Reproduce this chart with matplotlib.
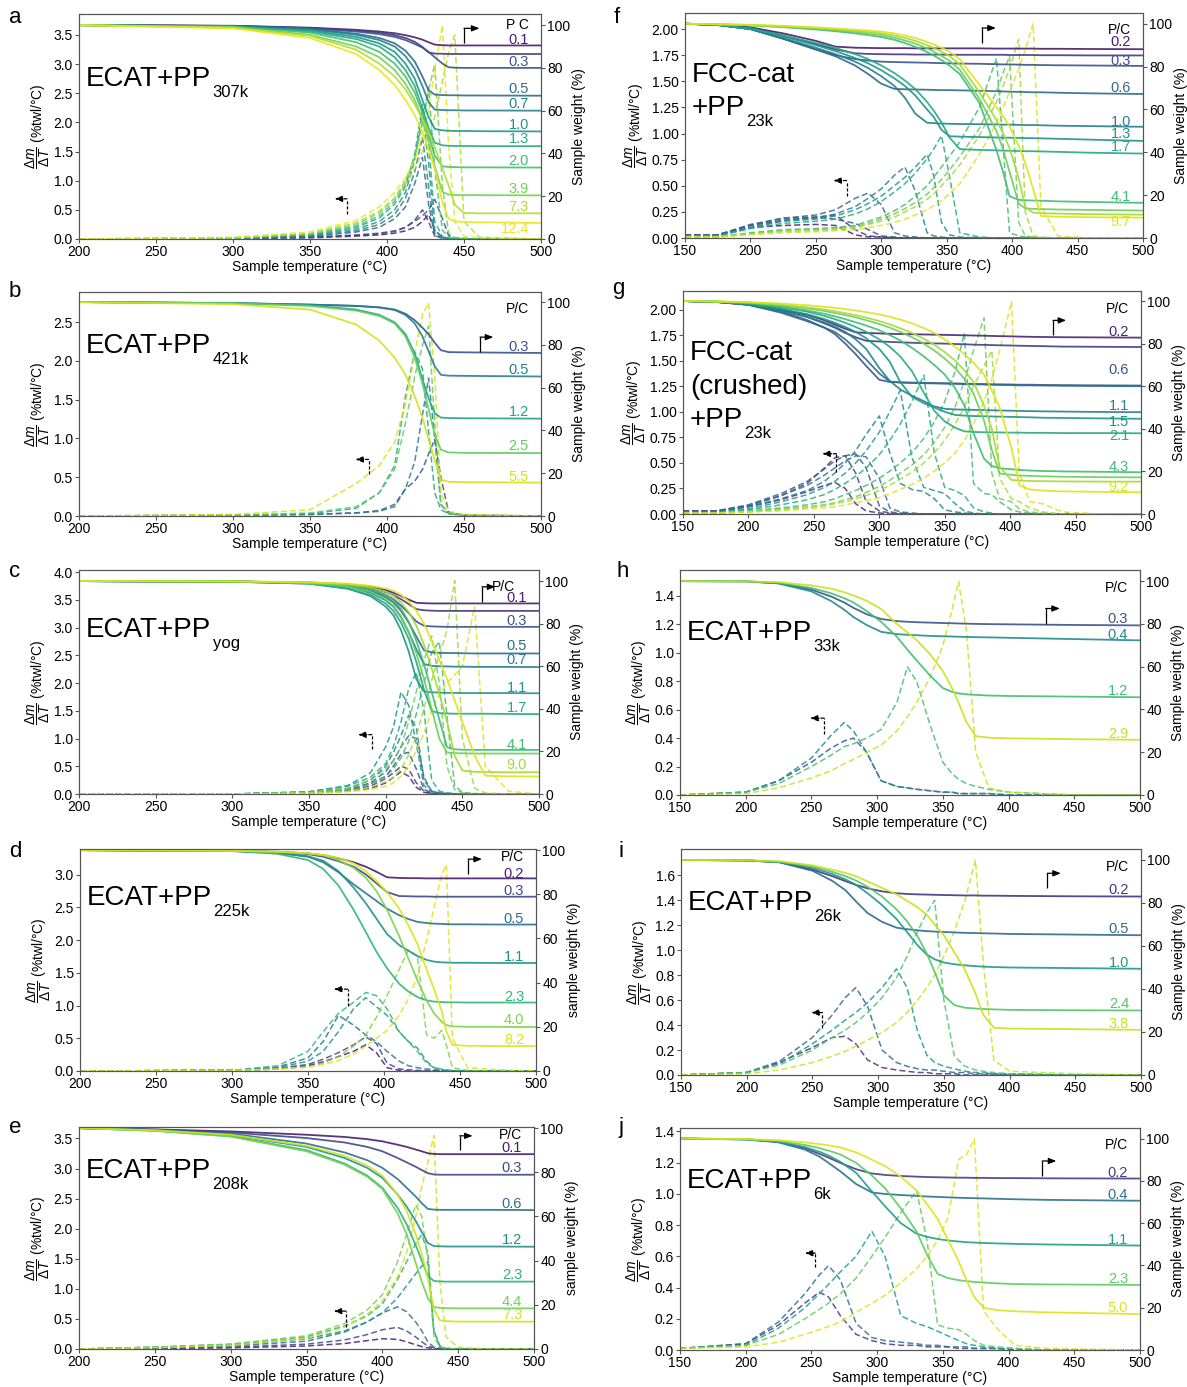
import numpy as np
import matplotlib
matplotlib.use('Agg')
import matplotlib.pyplot as plt
import matplotlib.transforms as mtransforms
from matplotlib.ticker import FormatStrFormatter

plt.rcParams['font.family'] = ['Liberation Sans', 'DejaVu Sans']
plt.rcParams['mathtext.fontset'] = 'custom'
plt.rcParams['mathtext.rm'] = 'Liberation Sans'
plt.rcParams['mathtext.it'] = 'Liberation Sans:italic'
plt.rcParams['mathtext.bf'] = 'Liberation Sans:bold'

# ---------------- panel a : ECAT + PP 307k ----------------
a_temp = [200, 300, 350, 380, 395, 405, 412, 418, 423, 427, 431, 436, 440, 444, 450, 460, 500]
a_labels = ['0.1', '', '0.3', '0.5', '0.7', '1.0', '1.3', '2.0', '3.9', '7.3', '12.4']
a_label_y = [93, None, 82.8, 70.3, 63, 53.4, 46.9, 36.7, 23.4, 14.8, 4.7]
a_weight = [
    [100, 99.7, 98.8, 97.8, 97, 96.2, 95.3, 94.3, 93.2, 92, 90.9, 90.6, 90.5, 90.5, 90.5, 90.5, 90.5],
    [100, 99.6, 98.6, 97.5, 96.5, 95.3, 94, 92.2, 89.8, 87.2, 86.7, 86.6, 86.5, 86.5, 86.5, 86.5, 86.5],
    [100, 99.6, 98.5, 97, 95.8, 94.5, 93, 91.2, 89.5, 87.5, 85, 82, 80.3, 80.1, 80, 80, 80],
    [100, 99.5, 98.2, 96, 94, 91.5, 88, 83, 76, 69.5, 67.5, 67.3, 67.2, 67.2, 67.1, 67.1, 67],
    [100, 99.5, 98, 95.5, 93, 90, 85.5, 79.5, 71.5, 64, 60.5, 60.3, 60.2, 60.2, 60.1, 60.1, 60],
    [100, 99.4, 97.5, 94.5, 91.5, 87.5, 82, 75, 65, 57, 51.5, 50.8, 50.6, 50.5, 50.5, 50.4, 50.3],
    [100, 99.3, 97, 93.5, 90, 85, 79, 71.5, 61, 52, 45, 43.8, 43.6, 43.5, 43.5, 43.4, 43.4],
    [100, 99.2, 96.5, 92, 87.5, 82, 76, 68.5, 59, 49, 39, 34, 33.7, 33.6, 33.5, 33.5, 33.4],
    [100, 99, 95.5, 90, 85, 79, 72.5, 65, 56, 46, 34, 22, 20.8, 20.6, 20.5, 20.5, 20.4],
    [100, 98.8, 95, 88.5, 82, 76, 70, 63, 56, 50, 43, 33, 25, 16, 12.2, 12, 12],
    [100, 98.5, 94, 86.5, 79, 72, 65, 58, 50, 42, 33, 17, 9.5, 8.2, 8, 7.8, 7.5],
]
a_dtg = [
    [0, 0.01, 0.02, 0.05, 0.07, 0.1, 0.14, 0.2, 0.3, 0.42, 0.15, 0.03, 0.01, 0, 0, 0, 0],
    [0, 0.01, 0.03, 0.06, 0.09, 0.13, 0.2, 0.32, 0.5, 0.3, 0.05, 0.02, 0, 0, 0, 0, 0],
    [0, 0.01, 0.03, 0.07, 0.1, 0.14, 0.2, 0.3, 0.4, 0.5, 0.68, 0.35, 0.06, 0.02, 0.01, 0, 0],
    [0, 0.01, 0.04, 0.12, 0.2, 0.35, 0.55, 0.95, 1.4, 0.6, 0.06, 0.01, 0, 0, 0, 0, 0],
    [0, 0.01, 0.05, 0.14, 0.25, 0.42, 0.7, 1.15, 1.75, 0.9, 0.1, 0.02, 0, 0, 0, 0, 0],
    [0, 0.01, 0.06, 0.17, 0.3, 0.5, 0.8, 1.35, 2.2, 1.3, 0.15, 0.02, 0, 0, 0, 0, 0],
    [0, 0.01, 0.07, 0.2, 0.36, 0.6, 0.9, 1.45, 2.3, 1.7, 0.3, 0.04, 0.01, 0, 0, 0, 0],
    [0, 0.02, 0.08, 0.22, 0.4, 0.65, 0.95, 1.4, 2.0, 2.6, 1.2, 0.15, 0.03, 0.01, 0, 0, 0],
    [0, 0.02, 0.09, 0.25, 0.45, 0.7, 1.0, 1.4, 1.95, 2.55, 3.0, 0.9, 0.1, 0.02, 0.01, 0, 0],
    [0, 0.02, 0.1, 0.28, 0.48, 0.7, 0.95, 1.2, 1.5, 1.75, 2.1, 2.7, 3.2, 3.5, 0.3, 0.03, 0],
    [0, 0.03, 0.12, 0.32, 0.55, 0.8, 1.05, 1.35, 1.75, 2.2, 2.9, 3.67, 1.6, 0.3, 0.05, 0.02, 0],
]

# ---------------- panel b : ECAT + PP 421k ----------------
b_temp = [200, 300, 350, 380, 395, 405, 412, 418, 423, 427, 431, 435, 440, 450, 500]
b_labels = ['0.3', '0.5', '1.2', '2.5', '5.5']
b_label_y = [79.2, 68.4, 48.75, 32.5, 18.4]
b_weight = [
    [100, 99.5, 98.8, 98.2, 97.5, 96.5, 94.5, 91.5, 88, 85, 81, 77.5, 76.6, 76.5, 76.2],
    [100, 99.5, 98.8, 98.2, 97.5, 96.3, 94, 90, 84, 77, 70, 66, 65.6, 65.5, 65.2],
    [100, 99.5, 98.5, 96.5, 94, 90.5, 85, 76, 64, 55, 48, 46, 45.8, 45.7, 45.5],
    [100, 99.4, 98.2, 96, 93.5, 90, 84, 74, 62, 50, 38, 31, 29.7, 29.5, 29.4],
    [100, 99, 96.5, 89.5, 82, 74, 66, 56, 46, 36, 26, 17, 16, 15.8, 15.6],
]
b_dtg = [
    [0, 0.01, 0.02, 0.04, 0.07, 0.15, 0.35, 0.45, 0.6, 0.8, 0.99, 0.5, 0.05, 0.01, 0],
    [0, 0.01, 0.02, 0.04, 0.06, 0.12, 0.35, 0.7, 1.3, 1.78, 1.0, 0.15, 0.03, 0.01, 0],
    [0, 0.01, 0.03, 0.1, 0.3, 0.65, 1.55, 2.12, 1.9, 1.1, 0.3, 0.08, 0.03, 0.01, 0],
    [0, 0.01, 0.04, 0.12, 0.3, 0.6, 1.2, 1.8, 2.2, 2.45, 1.2, 0.15, 0.04, 0.01, 0],
    [0, 0.02, 0.08, 0.42, 0.65, 0.95, 1.45, 2.1, 2.6, 2.75, 1.8, 0.3, 0.06, 0.02, 0],
]

# ---------------- panel c : ECAT + PP yog ----------------
c_temp = [200, 300, 350, 375, 390, 400, 405, 410, 415, 420, 425, 430, 435, 440, 445, 450, 458, 465, 480, 500]
c_labels = ['0.1', '', '0.3', '0.5', '0.7', '1.1', '1.7', '4.1', '', '9.0', '']
c_label_y = [92.2, None, 81.2, 69.4, 62.8, 49.9, 40.5, 22.8, None, 13.7, None]
c_weight = [
    [100, 99.8, 99.3, 98.5, 97.3, 95.8, 94.5, 93, 91.3, 89.8, 89.6, 89.5, 89.5, 89.5, 89.5, 89.5, 89.5, 89.5, 89.5, 89.5],
    [100, 99.8, 99.3, 98.3, 96.8, 94.8, 93.3, 91.5, 89.2, 86.8, 86.3, 86.1, 86, 86, 86, 86, 86, 86, 86, 86],
    [100, 99.8, 99.2, 98, 96, 93.5, 91.5, 88.5, 85, 81, 79, 78.7, 78.6, 78.5, 78.5, 78.5, 78.5, 78.5, 78.5, 78.5],
    [100, 99.8, 99.2, 97.8, 95.5, 92.5, 90, 86, 80.5, 74, 67.5, 66.5, 66.3, 66.2, 66.2, 66.1, 66, 66, 66, 66],
    [100, 99.7, 99, 97.5, 94.5, 91, 88, 83, 76, 68, 61, 60.2, 60, 59.9, 59.8, 59.8, 59.7, 59.7, 59.7, 59.6],
    [100, 99.7, 98.8, 96.5, 93, 88, 84, 77, 67, 54, 48.2, 47.8, 47.6, 47.5, 47.5, 47.4, 47.4, 47.4, 47.4, 47.3],
    [100, 99.7, 98.8, 96.5, 93.5, 89.5, 86, 80.5, 73, 62, 49, 39, 38, 37.8, 37.7, 37.7, 37.7, 37.7, 37.6, 37.5],
    [100, 99.8, 99.2, 98, 96, 93.5, 91, 87, 81, 72, 61, 48, 35, 22, 21, 20.8, 20.7, 20.7, 20.7, 20.7],
    [100, 99.8, 99, 97.5, 95, 91.5, 88.5, 83.5, 76, 66, 54, 40, 26, 19.5, 19.2, 19.1, 19, 19, 19, 19],
    [100, 99.8, 99.3, 98.5, 97, 95, 93, 90, 85.5, 79, 70, 59, 47, 34, 18, 11, 10.4, 10.3, 10.2, 10.2],
    [100, 99.9, 99.5, 98.8, 97.8, 96.5, 95.5, 93.5, 90.5, 86, 80, 72, 63, 54, 44, 34, 18, 8.6, 8.3, 8.2],
]
c_dtg = [
    [0, 0, 0.02, 0.05, 0.1, 0.2, 0.3, 0.4, 0.32, 0.12, 0.03, 0.01, 0, 0, 0, 0, 0, 0, 0, 0],
    [0, 0, 0.02, 0.06, 0.14, 0.28, 0.38, 0.5, 0.45, 0.2, 0.05, 0.01, 0, 0, 0, 0, 0, 0, 0, 0],
    [0, 0, 0.02, 0.07, 0.18, 0.32, 0.5, 0.72, 0.75, 0.45, 0.08, 0.02, 0.01, 0, 0, 0, 0, 0, 0, 0],
    [0, 0, 0.02, 0.08, 0.2, 0.4, 0.6, 0.85, 1.05, 1.0, 0.3, 0.05, 0.02, 0.01, 0, 0, 0, 0, 0, 0],
    [0, 0, 0.03, 0.1, 0.25, 0.5, 0.75, 1.05, 1.42, 1.2, 0.25, 0.05, 0.02, 0.01, 0, 0, 0, 0, 0, 0],
    [0, 0, 0.04, 0.15, 0.38, 0.85, 1.2, 1.84, 1.6, 0.9, 0.15, 0.04, 0.02, 0.01, 0, 0, 0, 0, 0, 0],
    [0, 0, 0.04, 0.14, 0.3, 0.55, 0.85, 1.3, 1.9, 2.2, 1.5, 0.25, 0.05, 0.02, 0.01, 0, 0, 0, 0, 0],
    [0, 0, 0.02, 0.08, 0.18, 0.32, 0.45, 0.65, 0.95, 1.45, 2.0, 2.55, 2.75, 1.4, 0.15, 0.03, 0.01, 0, 0, 0],
    [0, 0, 0.03, 0.1, 0.25, 0.45, 0.6, 0.85, 1.3, 1.85, 2.4, 2.85, 2.0, 0.5, 0.08, 0.02, 0, 0, 0, 0],
    [0, 0, 0.02, 0.05, 0.12, 0.22, 0.3, 0.45, 0.7, 1.05, 1.55, 2.05, 2.5, 2.95, 3.85, 1.0, 0.1, 0.02, 0, 0],
    [0, 0, 0.01, 0.04, 0.08, 0.14, 0.2, 0.32, 0.5, 0.78, 1.1, 1.5, 1.8, 2.0, 2.15, 2.3, 3.38, 0.5, 0.05, 0],
]

# ---------------- panel d : ECAT + PP 225k ----------------
d_temp = [200, 300, 330, 350, 360, 370, 380, 388, 395, 402, 410, 416, 422, 428, 433, 438, 441, 445, 455, 475, 500]
d_labels = ['0.2', '0.3', '0.5', '1.1', '2.3', '4.0', '8.2']
d_label_y = [89.4, 81.4, 69, 51.7, 33.5, 23, 13.9]
d_weight = [
    [100, 99.7, 99.2, 98.5, 97.7, 96.3, 94.5, 92.5, 90.2, 87.7, 87.4, 87.3, 87.3, 87.2, 87.2, 87.2, 87.2, 87.2, 87.2, 87.2, 87.2],
    [100, 99.7, 99.1, 98.2, 97, 95, 92.5, 89, 85, 81, 79.2, 79.1, 79, 79, 78.9, 78.9, 78.9, 78.9, 78.9, 78.9, 78.9],
    [100, 99.6, 98.7, 97, 94.5, 90, 84.5, 80.5, 77, 73.5, 70.5, 68.8, 67.5, 67, 66.7, 66.6, 66.5, 66.4, 66.4, 66.3, 66.3],
    [100, 99.6, 98.8, 97.2, 95.2, 90.5, 83, 76, 69, 62, 57, 54.5, 52, 50.3, 49.5, 49.2, 49.1, 49, 49, 48.9, 48.9],
    [100, 99.6, 98.3, 95.5, 91.5, 84, 73, 63, 54, 46.5, 39.5, 36, 33.5, 32, 31.4, 31.2, 31.1, 31.1, 31, 31, 31],
    [100, 99.7, 99.3, 98.6, 97.6, 95.5, 92, 87.5, 81.5, 73, 61, 51, 41, 32, 26, 22.3, 20.8, 20.2, 20, 20, 19.9],
    [100, 99.7, 99.2, 98.5, 97.8, 96.5, 94, 90.5, 86, 81, 73.5, 66, 57.5, 46, 37, 27, 18, 11.8, 11.4, 11.3, 11.3],
]
d_dtg = [
    [0, 0.01, 0.03, 0.08, 0.14, 0.22, 0.3, 0.4, 0.28, 0.05, 0.01, 0, 0, 0, 0, 0, 0, 0, 0, 0, 0],
    [0, 0.01, 0.04, 0.1, 0.18, 0.28, 0.4, 0.52, 0.42, 0.12, 0.03, 0.02, 0.01, 0, 0, 0, 0, 0, 0, 0, 0],
    [0, 0.01, 0.06, 0.2, 0.45, 0.85, 0.7, 0.55, 0.45, 0.3, 0.15, 0.08, 0.05, 0.03, 0.02, 0.01, 0, 0, 0, 0, 0],
    [0, 0.01, 0.05, 0.15, 0.3, 0.6, 0.95, 1.12, 0.98, 0.85, 0.6, 0.45, 0.35, 0.15, 0.05, 0.02, 0.01, 0, 0, 0, 0],
    [0, 0.01, 0.08, 0.3, 0.6, 0.88, 1.05, 1.2, 1.15, 0.95, 0.6, 0.45, 0.3, 0.12, 0.05, 0.03, 0.02, 0.01, 0, 0, 0],
    [0, 0.01, 0.03, 0.06, 0.12, 0.22, 0.38, 0.55, 0.82, 1.15, 1.55, 1.85, 1.75, 0.55, 0.5, 0.62, 0.4, 0.05, 0.01, 0, 0],
    [0, 0.01, 0.03, 0.06, 0.1, 0.16, 0.26, 0.38, 0.5, 0.62, 0.85, 1.1, 1.45, 2.0, 2.5, 3.0, 3.15, 0.5, 0.05, 0.02, 0],
]

# ---------------- panel e : ECAT + PP 208k ----------------
e_temp = [200, 250, 300, 350, 375, 390, 400, 410, 416, 422, 426, 430, 434, 438, 442, 450, 470, 500]
e_labels = ['0.1', '0.3', '0.6', '1.2', '2.3', '4.4', '7.3']
e_label_y = [91.2, 81.9, 65.7, 49.4, 33.5, 21.5, 15.4]
e_weight = [
    [100, 99.4, 98.5, 97, 96, 95, 94, 92.5, 91.5, 90.3, 89.5, 88.6, 88.3, 88.2, 88.2, 88.2, 88.2, 88.2],
    [100, 99.3, 98, 95.5, 93.5, 91.5, 89.5, 86.5, 84.5, 82.5, 81, 79.6, 79, 78.9, 78.9, 78.9, 78.9, 78.9],
    [100, 99.2, 97.5, 93, 89, 85.5, 82, 77, 73, 69, 66, 63.4, 63.1, 63, 63, 63, 63, 62.9],
    [100, 99, 96.8, 91.5, 86.5, 82, 77.5, 70, 64.5, 58, 53, 48, 46.6, 46.5, 46.4, 46.4, 46.4, 46.3],
    [100, 98.8, 96.3, 90, 84, 78.5, 73, 64, 56.5, 47, 40, 33, 30.8, 30.6, 30.5, 30.5, 30.5, 30.5],
    [100, 98.8, 96.2, 89.5, 83.5, 78, 72.5, 61.5, 52, 39, 30.5, 23, 19, 18.6, 18.5, 18.4, 18.4, 18.4],
    [100, 99, 97, 92, 87.5, 83, 78.5, 70, 62.5, 52, 43, 32, 18, 13, 12.6, 12.4, 12.4, 12.4],
]
e_dtg = [
    [0, 0.01, 0.02, 0.05, 0.09, 0.14, 0.17, 0.16, 0.12, 0.07, 0.04, 0.02, 0.01, 0, 0, 0, 0, 0],
    [0, 0.01, 0.03, 0.08, 0.15, 0.24, 0.32, 0.36, 0.3, 0.2, 0.12, 0.05, 0.02, 0.01, 0, 0, 0, 0],
    [0, 0.02, 0.05, 0.13, 0.28, 0.45, 0.6, 0.7, 0.62, 0.45, 0.3, 0.12, 0.03, 0.01, 0, 0, 0, 0],
    [0, 0.03, 0.07, 0.17, 0.3, 0.45, 0.6, 0.85, 1.05, 1.25, 1.38, 1.45, 0.3, 0.05, 0.01, 0, 0, 0],
    [0, 0.03, 0.08, 0.2, 0.38, 0.55, 0.75, 1.15, 1.45, 1.75, 1.9, 1.6, 0.3, 0.04, 0.01, 0, 0, 0],
    [0, 0.03, 0.08, 0.22, 0.42, 0.65, 0.9, 1.45, 1.9, 2.4, 2.2, 1.5, 0.2, 0.03, 0.01, 0, 0, 0],
    [0, 0.02, 0.06, 0.18, 0.36, 0.58, 0.8, 1.2, 1.6, 2.2, 2.7, 3.1, 3.55, 1.1, 0.2, 0.03, 0, 0],
]

# ---------------- panel f : FCC-cat + PP 23k ----------------
f_temp = [150, 175, 200, 225, 250, 265, 280, 290, 300, 310, 318, 326, 335, 340,
          346, 352, 360, 375, 388, 393, 398, 405, 410, 416, 422, 435, 460, 500]
f_labels = ['0.2', '', '0.3', '0.6', '1.0', '1.3', '1.7', '4.1', '', '', '9.7']
f_label_y = [91.7, None, 82.7, 69.8, 54.2, 48.4, 42.5, 19, None, None, 7.3]
f_weight = [
    [100, 99.5, 98.3, 95.5, 92, 89.3, 88.8, 88.7, 88.6, 88.6, 88.6, 88.5, 88.5, 88.5,
     88.5, 88.5, 88.5, 88.5, 88.4, 88.4, 88.4, 88.4, 88.4, 88.4, 88.3, 88.3, 88.2, 88.1],
    [100, 99.5, 98, 94.5, 90.5, 88, 86.2, 85.9, 85.8, 85.7, 85.7, 85.6, 85.6, 85.6,
     85.6, 85.5, 85.5, 85.5, 85.5, 85.5, 85.4, 85.4, 85.4, 85.4, 85.3, 85.3, 85.2, 85.2],
    [100, 99.4, 97.5, 93, 88, 85.3, 83.5, 82.8, 82.3, 82.1, 82, 81.9, 81.8, 81.7,
     81.6, 81.5, 81.4, 81.3, 81.1, 81, 81, 80.9, 80.8, 80.8, 80.7, 80.6, 80.5, 80.3],
    [100, 99.4, 97.5, 93, 88, 84.8, 80.5, 76.5, 72, 69.6, 69.4, 69.3, 69.2, 69.1,
     69, 69, 68.9, 68.7, 68.5, 68.4, 68.3, 68.2, 68.1, 68, 68, 67.8, 67.5, 67.2],
    [100, 99.4, 97.5, 93.3, 88.8, 85.8, 82.3, 79.3, 75.5, 71, 65.5, 58, 53.8, 53.6,
     53.4, 53.3, 53.2, 53.1, 53, 52.9, 52.9, 52.8, 52.7, 52.7, 52.6, 52.4, 52.2, 51.9],
    [100, 99.4, 97.6, 94, 90, 87.2, 84, 81.5, 78.3, 74.5, 71, 66.5, 60, 56.5,
     50.5, 47.5, 47.3, 47.1, 46.9, 46.8, 46.8, 46.7, 46.6, 46.6, 46.5, 46.3, 45.9, 45.3],
    [100, 99.5, 97.8, 94.5, 91, 88.7, 85.8, 83.5, 80.5, 77, 73.5, 69.5, 63.5, 59.5,
     54, 47, 41.5, 41.1, 40.9, 40.8, 40.7, 40.6, 40.5, 40.5, 40.4, 40.2, 39.8, 39.4],
    [100, 99.7, 99.2, 98.4, 97.3, 96.5, 95.5, 94.7, 93.8, 92.5, 91, 89.2, 86.8, 85.2,
     83, 80.5, 76.5, 63, 41, 31, 19.5, 17.8, 17.6, 17.5, 17.4, 17.1, 16.8, 16.4],
    [100, 99.7, 99.3, 98.6, 97.7, 97, 96.2, 95.5, 94.7, 93.5, 92.2, 90.7, 88.5, 87,
     85, 82.8, 78.5, 65, 50, 41.5, 31, 16, 13.8, 13.6, 13.5, 13.3, 13.1, 12.8],
    [100, 99.7, 99.4, 98.8, 98, 97.4, 96.7, 96.2, 95.5, 94.5, 93.4, 92, 90, 88.7,
     87, 85, 81, 68, 55, 49, 42, 28, 14.5, 11.8, 11.6, 11.4, 11.1, 10.9],
    [100, 99.8, 99.5, 99, 98.3, 97.8, 97.2, 96.8, 96.3, 95.5, 94.5, 93.3, 91.5, 90.3,
     88.8, 87, 83.5, 71.5, 61, 57, 52, 43, 35, 23, 10.3, 9.9, 9.7, 9.5],
]
f_dtg = [
    [0.03, 0.03, 0.1, 0.12, 0.13, 0.12, 0.03, 0.01, 0.01, 0, 0, 0, 0, 0,
     0, 0, 0, 0, 0, 0, 0, 0, 0, 0, 0, 0, 0, 0],
    [0.03, 0.03, 0.12, 0.17, 0.2, 0.22, 0.08, 0.02, 0.01, 0, 0, 0, 0, 0,
     0, 0, 0, 0, 0, 0, 0, 0, 0, 0, 0, 0, 0, 0],
    [0.03, 0.03, 0.13, 0.19, 0.2, 0.18, 0.14, 0.08, 0.02, 0.01, 0, 0, 0, 0,
     0, 0, 0, 0, 0, 0, 0, 0, 0, 0, 0, 0, 0, 0],
    [0.03, 0.03, 0.12, 0.19, 0.22, 0.27, 0.38, 0.43, 0.32, 0.05, 0.02, 0.01, 0, 0,
     0, 0, 0, 0, 0, 0, 0, 0, 0, 0, 0, 0, 0, 0],
    [0.02, 0.02, 0.1, 0.17, 0.19, 0.23, 0.3, 0.38, 0.47, 0.6, 0.68, 0.45, 0.05, 0.02,
     0.01, 0, 0, 0, 0, 0, 0, 0, 0, 0, 0, 0, 0, 0],
    [0.02, 0.02, 0.1, 0.16, 0.18, 0.21, 0.27, 0.33, 0.4, 0.5, 0.58, 0.68, 0.8, 0.6,
     0.15, 0.03, 0.01, 0, 0, 0, 0, 0, 0, 0, 0, 0, 0, 0],
    [0.02, 0.02, 0.09, 0.14, 0.16, 0.18, 0.23, 0.28, 0.35, 0.44, 0.52, 0.62, 0.76, 0.85,
     0.98, 0.6, 0.05, 0.01, 0, 0, 0, 0, 0, 0, 0, 0, 0, 0],
    [0.01, 0.01, 0.05, 0.08, 0.09, 0.1, 0.12, 0.16, 0.2, 0.26, 0.32, 0.4, 0.5, 0.58,
     0.68, 0.78, 0.92, 1.25, 1.72, 0.9, 0.05, 0.02, 0.01, 0, 0, 0, 0, 0],
    [0.01, 0.01, 0.04, 0.07, 0.08, 0.09, 0.11, 0.14, 0.18, 0.23, 0.28, 0.34, 0.42, 0.48,
     0.56, 0.65, 0.78, 1.05, 1.4, 1.58, 1.74, 0.15, 0.02, 0.01, 0, 0, 0, 0],
    [0.01, 0.01, 0.04, 0.06, 0.07, 0.08, 0.1, 0.13, 0.16, 0.2, 0.25, 0.3, 0.37, 0.42,
     0.5, 0.58, 0.7, 0.98, 1.3, 1.45, 1.62, 1.9, 0.25, 0.02, 0.01, 0, 0, 0],
    [0.01, 0.01, 0.03, 0.05, 0.06, 0.07, 0.08, 0.1, 0.12, 0.15, 0.18, 0.22, 0.27, 0.31,
     0.36, 0.42, 0.52, 0.8, 1.1, 1.25, 1.4, 1.62, 1.8, 2.05, 0.3, 0.02, 0, 0],
]

# ---------------- panel g : FCC-cat (crushed) + PP 23k ----------------
g_temp = [150, 175, 200, 225, 245, 258, 266, 274, 282, 290, 300, 308, 316, 325, 334,
          342, 350, 358, 365, 372, 380, 386, 392, 401, 407, 415, 425, 440, 470, 500]
g_labels = ['0.2', '', '0.6', '', '1.1', '1.5', '2.1', '4.3', '', '', '9.2']
g_label_y = [85.4, None, 67.7, None, 50.5, 43.1, 36.5, 21.9, None, None, 12.9]
g_weight = [
    [100, 99.6, 98.5, 96, 93.5, 91, 89, 87, 85.3, 85, 84.8, 84.6, 84.5, 84.4, 84.3,
     84.2, 84.1, 84, 83.9, 83.8, 83.7, 83.6, 83.5, 83.4, 83.3, 83.2, 83.1, 83, 82.9, 82.8],
    [100, 99.6, 98.3, 95.5, 92.5, 89.5, 87.5, 85, 83, 81.3, 81, 80.8, 80.6, 80.4, 80.2,
     80.1, 80, 79.8, 79.7, 79.5, 79.4, 79.3, 79.2, 79.1, 79, 78.9, 78.8, 78.6, 78.5, 78.4],
    [100, 99.6, 98.3, 95, 91, 87.5, 84.5, 80, 75, 69.5, 63, 62, 61.8, 61.7, 61.6,
     61.5, 61.4, 61.3, 61.2, 61.1, 61, 60.9, 60.9, 60.8, 60.7, 60.7, 60.6, 60.5, 60.4, 60.3],
    [100, 99.6, 98.2, 94.5, 90.5, 87.5, 85.5, 82, 77.5, 72.5, 66, 62.2, 61.7, 61.5, 61.4,
     61.3, 61.2, 61.1, 61, 60.9, 60.8, 60.7, 60.6, 60.5, 60.4, 60.4, 60.3, 60.2, 60.1, 60],
    [100, 99.6, 98.3, 95.5, 92.5, 90, 88, 85.5, 82, 77.5, 68.5, 62.5, 58.5, 55.5, 53,
     50.5, 49.4, 49.1, 49, 48.9, 48.8, 48.7, 48.6, 48.5, 48.4, 48.3, 48.2, 48.1, 47.9, 47.8],
    [100, 99.6, 98.5, 96.3, 93.8, 91.5, 89.8, 87.8, 85.5, 82.5, 77.5, 71.5, 62, 55, 52,
     50, 48, 46.5, 46.2, 46, 45.9, 45.8, 45.7, 45.6, 45.5, 45.4, 45.2, 45.1, 44.9, 44.7],
    [100, 99.7, 98.8, 97, 95, 93, 91.5, 89.8, 87.8, 85.5, 82, 78.5, 74, 67, 57,
     48.5, 43.5, 40.5, 38.8, 38.5, 38.4, 38.3, 38.3, 38.2, 38.2, 38.1, 38.1, 38, 38, 37.9],
    [100, 99.7, 99, 97.5, 95.5, 94, 92.8, 91.5, 90, 88.5, 86.3, 84, 81.5, 78, 74,
     70, 65.5, 59, 51, 38, 26, 22.5, 21.5, 21, 20.7, 20.4, 20.2, 20, 19.8, 19.6],
    [100, 99.8, 99.2, 98, 96.5, 95.3, 94.4, 93.4, 92.3, 91, 89.2, 87.5, 85.5, 83, 80,
     76.8, 73, 68.5, 63.5, 56.5, 44, 30, 19, 18.4, 18.1, 17.9, 17.7, 17.5, 17.3, 17.2],
    [100, 99.8, 99.3, 98.3, 97, 96, 95.2, 94.3, 93.3, 92.2, 90.6, 89, 87.2, 85, 82.3,
     79.5, 76, 72, 67.5, 62, 51, 40, 22, 16, 15.7, 15.5, 15.4, 15.3, 15.2, 15.2],
    [100, 99.8, 99.5, 98.8, 98, 97.3, 96.8, 96.2, 95.5, 94.8, 93.7, 92.6, 91.3, 89.5, 87.3,
     85, 82, 78.5, 75, 71, 65.5, 58, 50, 31, 13.5, 11.5, 11, 10.6, 10.4, 10.2],
]
g_dtg = [
    [0.03, 0.03, 0.07, 0.14, 0.22, 0.28, 0.31, 0.25, 0.1, 0.03, 0.01, 0, 0, 0, 0,
     0, 0, 0, 0, 0, 0, 0, 0, 0, 0, 0, 0, 0, 0, 0],
    [0.03, 0.03, 0.08, 0.18, 0.3, 0.45, 0.55, 0.57, 0.4, 0.12, 0.03, 0.01, 0, 0, 0,
     0, 0, 0, 0, 0, 0, 0, 0, 0, 0, 0, 0, 0, 0, 0],
    [0.03, 0.03, 0.09, 0.2, 0.32, 0.44, 0.52, 0.57, 0.59, 0.45, 0.08, 0.02, 0.01, 0, 0,
     0, 0, 0, 0, 0, 0, 0, 0, 0, 0, 0, 0, 0, 0, 0],
    [0.02, 0.02, 0.08, 0.18, 0.28, 0.38, 0.45, 0.52, 0.57, 0.56, 0.35, 0.06, 0.02, 0.01, 0,
     0, 0, 0, 0, 0, 0, 0, 0, 0, 0, 0, 0, 0, 0, 0],
    [0.02, 0.02, 0.07, 0.15, 0.23, 0.32, 0.4, 0.5, 0.62, 0.78, 0.96, 0.6, 0.3, 0.24, 0.22,
     0.15, 0.04, 0.02, 0.01, 0, 0, 0, 0, 0, 0, 0, 0, 0, 0, 0],
    [0.02, 0.02, 0.05, 0.12, 0.19, 0.26, 0.32, 0.4, 0.5, 0.62, 0.8, 1.0, 1.21, 0.55, 0.26,
     0.23, 0.2, 0.1, 0.03, 0.01, 0, 0, 0, 0, 0, 0, 0, 0, 0, 0],
    [0.01, 0.01, 0.04, 0.09, 0.14, 0.19, 0.24, 0.3, 0.37, 0.45, 0.58, 0.72, 0.88, 1.1, 1.36,
     0.6, 0.26, 0.23, 0.18, 0.06, 0.02, 0.01, 0, 0, 0, 0, 0, 0, 0, 0],
    [0.01, 0.01, 0.03, 0.06, 0.09, 0.12, 0.15, 0.19, 0.23, 0.28, 0.35, 0.42, 0.5, 0.6, 0.74,
     0.9, 1.1, 1.4, 1.77, 0.3, 0.2, 0.19, 0.12, 0.04, 0.02, 0.01, 0, 0, 0, 0],
    [0.01, 0.01, 0.02, 0.05, 0.07, 0.09, 0.11, 0.14, 0.17, 0.21, 0.27, 0.33, 0.4, 0.48, 0.58,
     0.7, 0.85, 1.05, 1.3, 1.6, 1.92, 0.4, 0.15, 0.12, 0.05, 0.02, 0.01, 0, 0, 0],
    [0.01, 0.01, 0.02, 0.04, 0.06, 0.08, 0.1, 0.12, 0.15, 0.18, 0.23, 0.28, 0.34, 0.41, 0.5,
     0.6, 0.72, 0.88, 1.05, 1.25, 1.45, 1.6, 0.35, 0.15, 0.12, 0.06, 0.02, 0, 0, 0],
    [0.01, 0.01, 0.02, 0.03, 0.05, 0.06, 0.07, 0.09, 0.11, 0.13, 0.16, 0.2, 0.24, 0.29, 0.35,
     0.42, 0.5, 0.6, 0.72, 0.88, 1.1, 1.32, 1.6, 2.08, 0.4, 0.12, 0.1, 0.02, 0, 0],
]

# ---------------- panel h : ECAT + PP 33k ----------------
h_temp = [150, 200, 225, 250, 265, 275, 282, 292, 303, 315, 323, 330, 340, 350, 357, 362, 368, 375, 385, 400, 450, 500]
h_labels = ['0.3', '0.4', '1.2', '2.9']
h_label_y = [82.5, 74.6, 48.8, 28.5]
h_weight = [
    [100, 99.9, 99, 96, 92.8, 90, 87.5, 84.5, 82.3, 81.3, 81, 80.8, 80.6, 80.4, 80.3, 80.2, 80.1, 80, 79.9, 79.8, 79.5, 79.3],
    [100, 99.9, 98.9, 95.2, 90.7, 86.6, 83.2, 79.5, 76.3, 75.2, 74.9, 74.7, 74.4, 74.2, 74.1, 74, 73.9, 73.8, 73.7, 73.5, 72.9, 72.3],
    [100, 99.9, 99.2, 96.8, 94.3, 92, 90, 86, 81, 74, 68, 63, 56, 50, 48.2, 47.5, 47.1, 46.8, 46.5, 46.3, 46, 45.7],
    [100, 99.9, 99.5, 98, 96.5, 94.8, 93.3, 90.8, 87, 80, 76, 72.5, 66, 58, 50, 43, 34, 27.5, 26.8, 26.5, 26.1, 25.8],
]
h_dtg = [
    [0, 0.02, 0.1, 0.23, 0.33, 0.38, 0.4, 0.3, 0.1, 0.06, 0.05, 0.04, 0.03, 0.02, 0.02, 0.01, 0.01, 0.01, 0.01, 0, 0, 0],
    [0, 0.02, 0.1, 0.26, 0.42, 0.51, 0.45, 0.3, 0.1, 0.06, 0.05, 0.04, 0.03, 0.02, 0.02, 0.01, 0.01, 0.01, 0.01, 0, 0, 0],
    [0, 0.02, 0.08, 0.2, 0.28, 0.34, 0.36, 0.4, 0.46, 0.65, 0.9, 0.8, 0.5, 0.23, 0.15, 0.11, 0.08, 0.06, 0.04, 0.02, 0, 0],
    [0, 0.01, 0.05, 0.12, 0.17, 0.22, 0.25, 0.3, 0.35, 0.45, 0.55, 0.65, 0.82, 1.05, 1.3, 1.5, 1.15, 0.3, 0.05, 0.02, 0, 0],
]

# ---------------- panel i : ECAT + PP 26k ----------------
i_temp = [150, 200, 225, 250, 265, 275, 283, 292, 303, 314, 322, 330, 337, 343, 350, 358, 366, 374, 380, 388, 400, 450, 500]
i_labels = ['0.2', '0.5', '1.0', '2.4', '3.8']
i_label_y = [86, 68, 52.2, 33, 23.7]
i_weight = [
    [100, 99.8, 99, 95.5, 92.5, 90.2, 88.4, 86.8, 85.4, 84.5, 84.2, 84, 83.9, 83.8, 83.7, 83.6, 83.5, 83.5, 83.4, 83.4, 83.3, 83.1, 83],
    [100, 99.8, 98.9, 95, 90.3, 86, 80.8, 75.3, 71.2, 68.5, 67.8, 67.3, 66.9, 66.7, 66.5, 66.3, 66.1, 66, 65.9, 65.8, 65.6, 65.3, 65],
    [100, 99.8, 99, 96.3, 93.5, 91, 88.5, 84.5, 79, 72.5, 66.5, 60.3, 56, 53.8, 52.3, 51.5, 51, 50.6, 50.4, 50.2, 50, 49.7, 49.4],
    [100, 99.8, 99.1, 97, 94.5, 92.5, 90.5, 87.5, 83, 77, 71.5, 64.5, 56.5, 48, 37, 32.5, 31.3, 30.9, 30.7, 30.5, 30.3, 30.1, 30],
    [100, 99.9, 99.4, 97.5, 95.5, 94, 92.5, 90, 87, 84, 81, 78, 74.5, 70, 65, 57, 49, 38, 28, 22, 21.6, 21.3, 21],
]
i_dtg = [
    [0, 0.02, 0.1, 0.22, 0.3, 0.31, 0.25, 0.12, 0.06, 0.04, 0.03, 0.02, 0.02, 0.01, 0.01, 0.01, 0, 0, 0, 0, 0, 0, 0],
    [0, 0.02, 0.11, 0.3, 0.48, 0.62, 0.7, 0.55, 0.2, 0.1, 0.07, 0.05, 0.04, 0.04, 0.03, 0.02, 0.02, 0.01, 0.01, 0.01, 0, 0, 0],
    [0, 0.02, 0.09, 0.25, 0.36, 0.44, 0.5, 0.58, 0.7, 0.85, 0.7, 0.35, 0.16, 0.1, 0.07, 0.05, 0.03, 0.02, 0.02, 0.01, 0.01, 0, 0],
    [0, 0.02, 0.08, 0.2, 0.3, 0.36, 0.42, 0.5, 0.62, 0.78, 0.95, 1.15, 1.3, 1.4, 0.6, 0.15, 0.07, 0.04, 0.03, 0.02, 0.01, 0, 0],
    [0, 0.01, 0.04, 0.1, 0.15, 0.19, 0.23, 0.28, 0.34, 0.42, 0.5, 0.6, 0.7, 0.8, 0.95, 1.15, 1.4, 1.72, 0.9, 0.12, 0.03, 0.01, 0],
]

# ---------------- panel j : ECAT + PP 6k ----------------
j_temp = [150, 200, 225, 245, 256, 263, 272, 284, 296, 306, 318, 330, 338, 346, 354, 362, 368, 374, 381, 392, 405, 430, 500]
j_labels = ['0.2', '0.4', '1.1', '2.3', '5.0']
j_label_y = [83.9, 73.3, 52.2, 33.6, 19.8]
j_weight = [
    [100, 99.7, 98.5, 95.5, 92.8, 91, 88.5, 85.5, 83.5, 82.8, 82.3, 82, 81.8, 81.7, 81.6, 81.5, 81.5, 81.4, 81.4, 81.3, 81.3, 81.2, 81.1],
    [100, 99.6, 98.2, 94.8, 91.5, 88.5, 84.5, 78.5, 74.5, 73.8, 73.3, 72.9, 72.6, 72.4, 72.2, 72, 71.9, 71.8, 71.7, 71.5, 71.3, 71, 70.6],
    [100, 99.6, 98.5, 96, 93.8, 92, 89, 83.8, 75, 68, 60, 55, 53.5, 52.5, 51.8, 51.3, 51, 50.8, 50.6, 50.4, 50.2, 49.9, 49.4],
    [100, 99.7, 98.8, 97, 95.5, 94.3, 92.5, 88.5, 82.5, 76.5, 67, 56, 45, 36, 34, 33, 32.6, 32.2, 31.9, 31.5, 31.2, 31, 30.8],
    [100, 99.8, 99.2, 98.2, 97.4, 96.8, 95.8, 93.5, 90, 87, 82, 75.5, 69, 62, 52, 42, 33, 25, 20, 18.8, 18.3, 17.8, 17],
]
j_dtg = [
    [0.01, 0.04, 0.16, 0.3, 0.37, 0.34, 0.22, 0.1, 0.06, 0.04, 0.03, 0.03, 0.02, 0.02, 0.02, 0.01, 0.01, 0.01, 0.01, 0.01, 0, 0, 0],
    [0.01, 0.04, 0.18, 0.36, 0.48, 0.54, 0.45, 0.17, 0.08, 0.06, 0.05, 0.04, 0.03, 0.03, 0.02, 0.02, 0.02, 0.01, 0.01, 0.01, 0, 0, 0],
    [0.01, 0.03, 0.14, 0.27, 0.36, 0.42, 0.5, 0.6, 0.76, 0.6, 0.22, 0.17, 0.15, 0.12, 0.09, 0.06, 0.04, 0.03, 0.02, 0.01, 0.01, 0, 0],
    [0.01, 0.03, 0.1, 0.2, 0.26, 0.3, 0.36, 0.46, 0.6, 0.72, 0.88, 1.02, 0.7, 0.16, 0.14, 0.13, 0.1, 0.06, 0.03, 0.02, 0.01, 0, 0],
    [0.01, 0.02, 0.05, 0.1, 0.13, 0.15, 0.18, 0.24, 0.3, 0.35, 0.43, 0.52, 0.6, 0.7, 0.85, 1.22, 1.25, 1.35, 0.25, 0.13, 0.03, 0.01, 0],
]

W, H = 1187, 1387
fig = plt.figure(figsize=(W / 100, H / 100), dpi=100)

panels = [
    dict(letter='a', lpos=(9, 23), box=(79, 14, 541, 239), xlim=(200, 500), ltop=3.86, lstep=0.5, lmax=3.5, fmt='%.1f',
         rtop=105.2, temp=a_temp, weight=a_weight, dtg=a_dtg, labels=a_labels, label_y=a_label_y,
         head='P C', head_y=100, head_x=0.974, cmap=(0.08, 0.97), title=['ECAT+PP'], title_y=[0.68], sub='307k',
         rarrow=(450, 91.5, 98.5, 460), larrow=(374, 0.43, 0.69, 366), rlabel='Sample weight (%)'),
    dict(letter='b', lpos=(9, 297), box=(79, 292, 541, 516), xlim=(200, 500), ltop=2.89, lstep=0.5, lmax=2.5, fmt='%.1f',
         rtop=104.7, temp=b_temp, weight=b_weight, dtg=b_dtg, labels=b_labels, label_y=b_label_y,
         head='P/C', head_y=96.9, head_x=0.974, cmap=(0.25, 0.93), title=['ECAT+PP'], title_y=[0.728], sub='421k',
         rarrow=(460.4, 76.6, 83.6, 469), larrow=(388, 0.54, 0.73, 379.5), rlabel='Sample weight (%)'),
    dict(letter='c', lpos=(9, 577), box=(79, 570, 539, 794), xlim=(200, 500), ltop=4.04, lstep=0.5, lmax=4.0, fmt='%.1f',
         rtop=105.2, temp=c_temp, weight=c_weight, dtg=c_dtg, labels=c_labels, label_y=c_label_y,
         head='P/C', head_y=97.3, head_x=0.947, cmap=(0.08, 0.95), title=['ECAT+PP'], title_y=[0.70], sub='yog',
         rarrow=(462.8, 90.3, 97.3, 471.5), larrow=(391, 0.81, 1.07, 382), rlabel='Sample weight (%)'),
    dict(letter='d', lpos=(9, 857), box=(80, 849, 536, 1071), xlim=(200, 500), ltop=3.39, lstep=0.5, lmax=3.0, fmt='%.1f',
         rtop=100.5, temp=d_temp, weight=d_weight, dtg=d_dtg, labels=d_labels, label_y=d_label_y,
         head='P/C', head_y=97, head_x=0.974, cmap=(0.08, 0.95), title=['ECAT+PP'], title_y=[0.748], sub='225k',
         rarrow=(455.4, 89, 95.9, 464.4), larrow=(376, 1.0, 1.25, 367), rlabel='sample weight (%)'),
    dict(letter='e', lpos=(9, 1133), box=(79, 1127, 534, 1349), xlim=(200, 500), ltop=3.69, lstep=0.5, lmax=3.5, fmt='%.1f',
         rtop=100.5, temp=e_temp, weight=e_weight, dtg=e_dtg, labels=e_labels, label_y=e_label_y,
         head='P/C', head_y=97, head_x=0.974, cmap=(0.08, 0.93), title=['ECAT+PP'], title_y=[0.77], sub='208k',
         rarrow=(451, 90.2, 96.5, 459.5), larrow=(375.8, 0.37, 0.63, 368), rlabel='sample weight (%)'),
    dict(letter='f', lpos=(614, 23), box=(685, 13, 1143, 238), xlim=(150, 500), ltop=2.154, lstep=0.25, lmax=2.0, fmt='%.2f',
         rtop=105, temp=f_temp, weight=f_weight, dtg=f_dtg, labels=f_labels, label_y=f_label_y,
         head='P/C', head_y=97.2, head_x=0.974, cmap=(0.08, 0.95), title=['FCC-cat', '+PP'], title_y=[0.693, 0.547], sub='23k',
         rarrow=(377, 91, 98, 387.5), larrow=(273.5, 0.4, 0.55, 263.4), rlabel='Sample weight (%)'),
    dict(letter='g', lpos=(612, 294), box=(683, 291, 1141, 514), xlim=(150, 500), ltop=2.183, lstep=0.25, lmax=2.0, fmt='%.2f',
         rtop=104.7, temp=g_temp, weight=g_weight, dtg=g_dtg, labels=g_labels, label_y=g_label_y,
         head='P/C', head_y=96.4, head_x=0.974, cmap=(0.1, 0.95), title=['FCC-cat', '(crushed)', '+PP'],
         title_y=[0.69, 0.54, 0.39], sub='23k',
         rarrow=(432.7, 83.9, 90.9, 442.8), larrow=(267.3, 0.41, 0.59, 256.4), rlabel='Sample weight (%)'),
    dict(letter='h', lpos=(617, 577), box=(680, 570, 1140, 795), xlim=(150, 500), ltop=1.581, lstep=0.2, lmax=1.4, fmt='%.1f',
         rtop=105.2, temp=h_temp, weight=h_weight, dtg=h_dtg, labels=h_labels, label_y=h_label_y,
         head='P/C', head_y=96.6, head_x=0.974, cmap=(0.25, 0.92), title=['ECAT+PP'], title_y=[0.69], sub='33k',
         rarrow=(428.3, 80.1, 87.2, 439), larrow=(259.6, 0.43, 0.54, 249), rlabel='Sample weight (%)'),
    dict(letter='i', lpos=(619, 857), box=(681, 849, 1141, 1075), xlim=(150, 500), ltop=1.81, lstep=0.2, lmax=1.6, fmt='%.1f',
         rtop=105.1, temp=i_temp, weight=i_weight, dtg=i_dtg, labels=i_labels, label_y=i_label_y,
         head='P/C', head_y=96.9, head_x=0.974, cmap=(0.15, 0.92), title=['ECAT+PP'], title_y=[0.73], sub='26k',
         rarrow=(428.7, 86.8, 93.8, 439), larrow=(257.6, 0.38, 0.5, 249), rlabel='Sample weight (%)'),
    dict(letter='j', lpos=(619, 1133), box=(680, 1128, 1140, 1350), xlim=(150, 500), ltop=1.421, lstep=0.2, lmax=1.4, fmt='%.1f',
         rtop=105, temp=j_temp, weight=j_weight, dtg=j_dtg, labels=j_labels, label_y=j_label_y,
         head='P/C', head_y=96.9, head_x=0.974, cmap=(0.18, 0.95), title=['ECAT+PP'], title_y=[0.73], sub='6k',
         rarrow=(425.6, 82.3, 89.4, 436.3), larrow=(252.9, 0.53, 0.62, 245), rlabel='Sample weight (%)'),
]

SPINE = '#555555'


def bent_arrow(ax, x0, y0, y1, x1, dashed):
    style = (0, (2.5, 1.5)) if dashed else '-'
    ax.plot([x0, x0], [y0, y1], color='black', lw=0.9, ls=style, solid_capstyle='butt')
    ax.annotate('', xy=(x1, y1), xytext=(x0, y1),
                arrowprops=dict(arrowstyle='-|>,head_length=0.45,head_width=0.18', color='black',
                                lw=0.9, shrinkA=0, shrinkB=0, linestyle=style))


for p in panels:
    x0, yt, x1, yb = p['box']
    ax = fig.add_axes([x0 / W, 1 - yb / H, (x1 - x0) / W, (yb - yt) / H])
    ax2 = ax.twinx()
    n = len(p['weight'])
    cols = plt.cm.viridis(np.linspace(p['cmap'][0], p['cmap'][1], n))
    blend = mtransforms.blended_transform_factory(ax2.transAxes, ax2.transData)

    for k in range(n):
        ax.plot(p['temp'], p['dtg'][k], color=cols[k], lw=1.1, ls=(0, (4, 2)), alpha=0.85)
        ax2.plot(p['temp'], p['weight'][k], color=cols[k], lw=1.3, alpha=0.9)
        if p['labels'][k]:
            ax2.text(0.974, p['label_y'][k], p['labels'][k], transform=blend, ha='right', va='center',
                     color=cols[k], fontsize=10.5)
    ax2.text(p['head_x'], p['head_y'], p['head'], transform=blend, ha='right', va='center', fontsize=10)

    bent_arrow(ax2, *p['rarrow'], dashed=False)
    bent_arrow(ax, *p['larrow'], dashed=True)

    ax.set_xlim(*p['xlim'])
    ax.set_ylim(0, p['ltop'])
    ax2.set_ylim(0, p['rtop'])
    ax.set_xticks(np.arange(p['xlim'][0], p['xlim'][1] + 1, 50))
    ax.set_yticks(np.arange(0, p['lmax'] + 1e-6, p['lstep']))
    ax.yaxis.set_major_formatter(FormatStrFormatter(p['fmt']))
    ax2.set_yticks([0, 20, 40, 60, 80, 100])

    for a in (ax, ax2):
        for s in a.spines.values():
            s.set_color(SPINE)
            s.set_linewidth(0.8)
        a.tick_params(labelsize=10, length=3, width=0.8, color=SPINE, pad=1.5)

    ax.set_xlabel('Sample temperature (°C)', fontsize=10, labelpad=0.5)
    ax.set_ylabel(r'$\dfrac{\Delta m}{\Delta T}$ (%twl/°C)', fontsize=10, labelpad=1)
    ax2.set_ylabel(p['rlabel'], fontsize=10, labelpad=1)

    t = None
    for line, ty in zip(p['title'], p['title_y']):
        t = ax2.text(0.015, ty, line, transform=ax2.transAxes, fontsize=20, ha='left', va='baseline')
    ax2.annotate(p['sub'], xy=(1, 0), xycoords=t, xytext=(1, -3.5), textcoords='offset points',
                 fontsize=12, ha='left', va='baseline')

    fig.text(p['lpos'][0] / W, 1 - p['lpos'][1] / H, p['letter'], fontsize=16, ha='left', va='baseline')

fig.savefig('out.png', dpi=100)
